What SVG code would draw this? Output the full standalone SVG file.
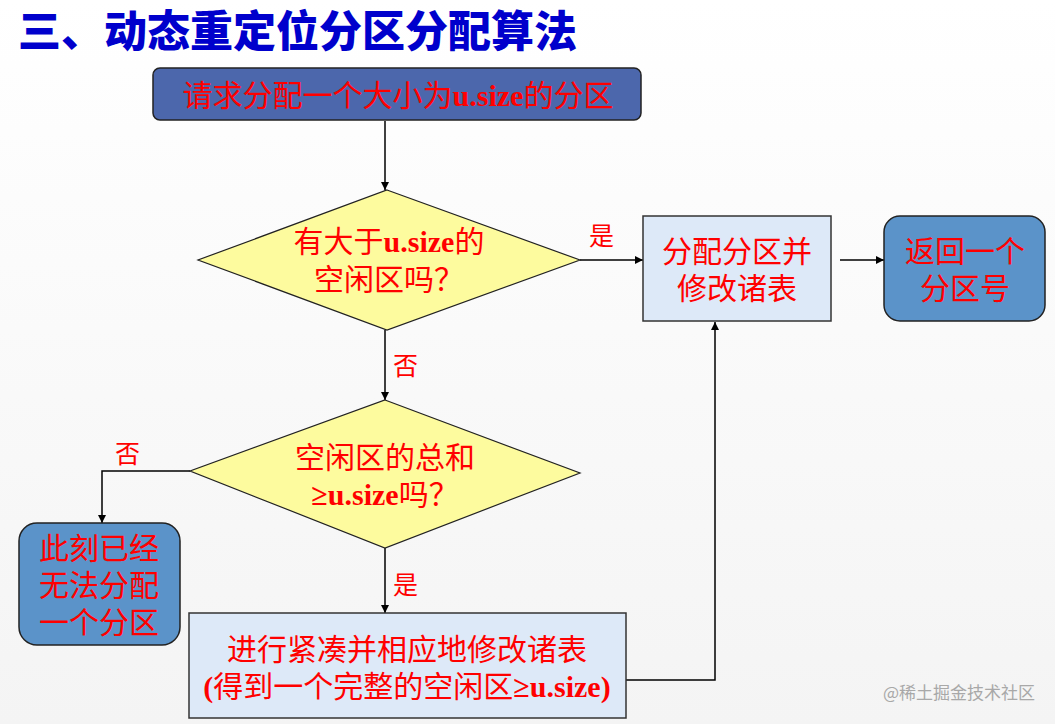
<svg xmlns="http://www.w3.org/2000/svg" width="1055" height="724" viewBox="0 0 1055 724">
<defs>
<linearGradient id="bg" x1="0" y1="0" x2="0" y2="1">
<stop offset="0" stop-color="#ffffff"/>
<stop offset="1" stop-color="#f4f4f4"/>
</linearGradient>
<marker id="arr" viewBox="0 0 10 10" refX="10" refY="5" markerWidth="8" markerHeight="8" markerUnits="userSpaceOnUse" orient="auto">
<path d="M0,0 L10,5 L0,10 z" fill="#000"/>
</marker>
<style>
.t{font-family:"Noto Sans CJK SC","Liberation Sans",sans-serif;fill:#ff0000;text-anchor:middle;font-size:30px;}
.l{font-family:"Liberation Serif",serif;font-weight:bold;}
.lab{font-family:"Noto Sans CJK SC",sans-serif;fill:#ff0000;font-size:25px;}
.c{fill:none;stroke:#000;stroke-width:1.5;marker-end:url(#arr);}
.pale{fill:#dde9f8;stroke:#333;stroke-width:1.5;}
.blue{fill:#5b93c9;stroke:#222;stroke-width:1.5;}
.dia{fill:#fdfb9e;stroke:#222;stroke-width:1.2;}
</style>
</defs>
<rect width="1055" height="724" fill="url(#bg)"/>
<text x="18" y="47" font-family="'Noto Sans CJK SC',sans-serif" font-weight="900" font-size="43" fill="#0000cc">三、动态重定位分区分配算法</text>

<g id="connectors">
<line class="c" x1="385" y1="121" x2="385" y2="190"/>
<line class="c" x1="580" y1="260" x2="643" y2="260"/>
<line class="c" x1="840" y1="260" x2="884" y2="260"/>
<line class="c" x1="385" y1="330" x2="385" y2="400"/>
<polyline class="c" points="190,471 102,471 102,523"/>
<line class="c" x1="385" y1="548" x2="385" y2="613"/>
<polyline class="c" points="626,680 715,680 715,322"/>
<text class="lab" x="589" y="245">是</text>
<text class="lab" x="393" y="375">否</text>
<text class="lab" x="115" y="463">否</text>
<text class="lab" x="393" y="594">是</text>
</g>

<g id="n-request">
<rect x="153" y="68" width="488" height="52" rx="7" fill="#4c67ac" stroke="#222" stroke-width="1.5"/>
<text class="t" x="398" y="106" font-size="28.5">请求分配一个大小为<tspan class="l">u.size</tspan>的分区</text>
</g>

<g id="n-check1">
<polygon class="dia" points="387,190 580,260 387,330 198,260"/>
<text class="t" x="389" y="252">有大于<tspan class="l">u.size</tspan>的</text>
<text class="t" x="389" y="290">空闲区吗？</text>
</g>

<g id="n-alloc">
<rect class="pale" x="643" y="216" width="188" height="105"/>
<text class="t" x="737" y="262">分配分区并</text>
<text class="t" x="737" y="299">修改诸表</text>
</g>

<g id="n-return">
<rect class="blue" x="884" y="216" width="161" height="105" rx="16"/>
<text class="t" x="965" y="262">返回一个</text>
<text class="t" x="965" y="299">分区号</text>
</g>

<g id="n-check2">
<polygon class="dia" points="385,400 580,473 385,548 190,471"/>
<text class="t" x="385" y="468">空闲区的总和</text>
<text class="t" x="385" y="505"><tspan class="l">≥u.size</tspan>吗？</text>
</g>

<g id="n-fail">
<rect class="blue" x="19" y="523" width="161" height="122" rx="18"/>
<text class="t" x="99" y="559">此刻已经</text>
<text class="t" x="99" y="596">无法分配</text>
<text class="t" x="99" y="633">一个分区</text>
</g>

<g id="n-compact">
<rect class="pale" x="189" y="613" width="437" height="105"/>
<text class="t" x="407" y="660">进行紧凑并相应地修改诸表</text>
<text class="t" x="407" y="697"><tspan class="l">(</tspan>得到一个完整的空闲区<tspan class="l">≥u.size)</tspan></text>
</g>

<text x="1035" y="699" text-anchor="end" font-family="'Noto Sans CJK SC',sans-serif" font-size="17" fill="#a8a8a8">@稀土掘金技术社区</text>
</svg>
